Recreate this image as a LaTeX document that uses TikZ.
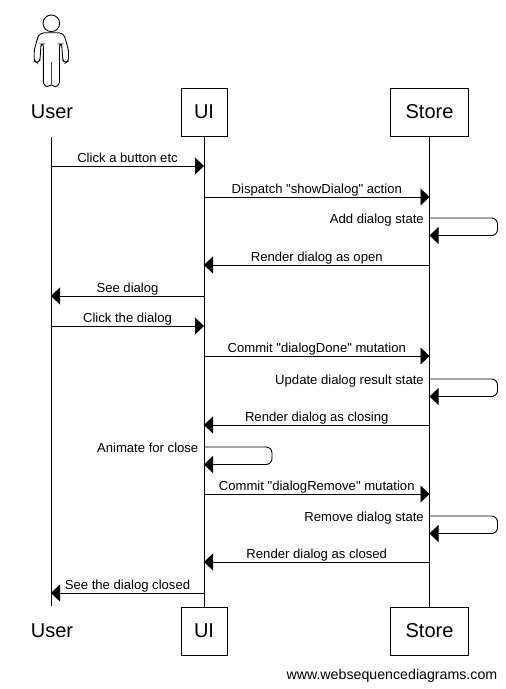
\documentclass[tikz,border=0pt]{standalone}
\usepackage{fontspec}
\setmainfont{Liberation Sans}[Ligatures=TeXOff]
\usetikzlibrary{arrows.meta,positioning,calc}
\tikzset{
  part/.style={draw, fill=white, minimum height=48pt, inner sep=0pt, font=\fontsize{20}{24}\selectfont},
  partuser/.style={part, draw=none, fill=none, text width=60pt, align=center},
  lifeline/.style={line width=0.9pt},
  msgarrow/.style={-{Triangle[length=9pt,width=17pt]}, line width=0.9pt},
  selfarrow/.style={msgarrow, rounded corners=6pt},
  msglabel/.style={font=\fontsize{13.1}{15}\selectfont, inner sep=0pt, text depth=3pt, above=0.2pt},
  selflabel/.style={font=\fontsize{13.1}{15}\selectfont, inner sep=0pt, anchor=base east}
}

\begin{document}
\begin{tikzpicture}[x=1pt,y=-1pt]
\useasboundingbox (0,0) rectangle (506,689);
% participants
\node[partuser] (user) at (52,112) {User};
\node[part, minimum width=46pt] (ui) at (204,112) {UI};
\node[part, minimum width=78pt] (store) at (429.5,112) {Store};
\node[partuser] (userEnd) at (52,631) {User};
\node[part, minimum width=46pt] (uiEnd) at (204,631) {UI};
\node[part, minimum width=78pt] (storeEnd) at (429.5,631) {Store};
\node[font=\fontsize{14.2}{16}\selectfont, anchor=base east, inner sep=0pt] (site) at (497.5,679) {www.websequencediagrams.com};
% lifelines
\coordinate (userTop) at (51,137);
\coordinate (userBot) at (51,606);
\draw[lifeline] (userTop) -- (userBot);
\draw[lifeline] (ui) -- (uiEnd);
\draw[lifeline] (store) -- (storeEnd);
% actor figure
\node[draw, circle, line width=0.9pt, minimum size=16.6pt, inner sep=0pt] (head) at (51.3,23.3) {};
\draw[line width=0.9pt, rounded corners=2.5pt] (43,32.7) -- (38.5,35) -- (34.2,50) -- (34.2,61) -- (37.5,63) -- (40,60) -- (41,44) -- (43.3,44)
  -- (43.3,84) -- (47.3,87.5) -- (51.3,84) -- (55.3,87.5) -- (59.5,84) -- (59.5,44) -- (61.7,44)
  -- (62.7,60) -- (65.2,63) -- (68.5,61) -- (68.5,50) -- (64.2,35) -- (59.7,32.7) -- cycle;
\draw[line width=1.6pt, black!75] (51.3,62) -- (51.3,85);
% message rows
\foreach \rowname/\rowy in {m1/166,m2/197,m3/218,m4/265,m5/296,m6/326,m7/356,m8/379,m9/425,m10/447,m11/494,m12/516,m13/562,m14/593}
  \coordinate (\rowname) at (0,\rowy);
% messages
\draw[msgarrow] (userTop |- m1) -- node[msglabel] (t1) {Click a button etc} (ui |- m1);
\draw[msgarrow] (ui |- m2) -- node[msglabel] (t2) {Dispatch "showDialog" action} (store |- m2);
\draw[selfarrow] (store |- m3) -- ++(68,0) -- ++(0,17.5) -- ++(-68,0);
\node[selflabel] (t3) at ($(store |- m3)+(-5.5,5.8)$) {Add dialog state};
\draw[msgarrow] (store |- m4) -- node[msglabel] (t4) {Render dialog as open} (ui |- m4);
\draw[msgarrow] (ui |- m5) -- node[msglabel] (t5) {See dialog} (userTop |- m5);
\draw[msgarrow] (userTop |- m6) -- node[msglabel] (t6) {Click the dialog} (ui |- m6);
\draw[msgarrow] (ui |- m7) -- node[msglabel] (t7) {Commit "dialogDone" mutation} (store |- m7);
\draw[selfarrow] (store |- m8) -- ++(68,0) -- ++(0,17.5) -- ++(-68,0);
\node[selflabel] (t8) at ($(store |- m8)+(-5.5,5.8)$) {Update dialog result state};
\draw[msgarrow] (store |- m9) -- node[msglabel] (t9) {Render dialog as closing} (ui |- m9);
\draw[selfarrow] (ui |- m10) -- ++(68,0) -- ++(0,17.5) -- ++(-68,0);
\node[selflabel] (t10) at ($(ui |- m10)+(-5.5,5.8)$) {Animate for close};
\draw[msgarrow] (ui |- m11) -- node[msglabel] (t11) {Commit "dialogRemove" mutation} (store |- m11);
\draw[selfarrow] (store |- m12) -- ++(68,0) -- ++(0,17.5) -- ++(-68,0);
\node[selflabel] (t12) at ($(store |- m12)+(-5.5,5.8)$) {Remove dialog state};
\draw[msgarrow] (store |- m13) -- node[msglabel] (t13) {Render dialog as closed} (ui |- m13);
\draw[msgarrow] (ui |- m14) -- node[msglabel] (t14) {See the dialog closed} (userTop |- m14);
\end{tikzpicture}
\end{document}
